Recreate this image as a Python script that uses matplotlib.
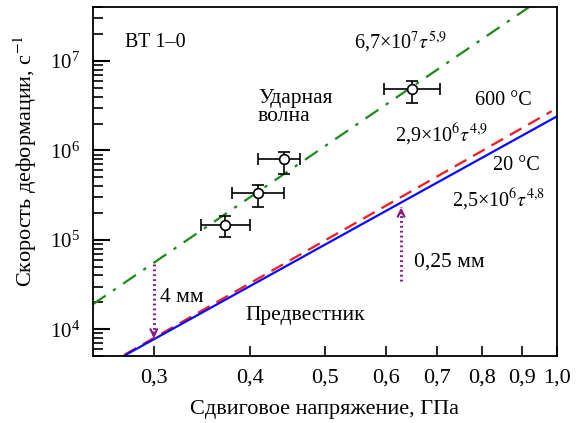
import numpy as np
import matplotlib
matplotlib.use("Agg")
import matplotlib.pyplot as plt
from matplotlib.ticker import FixedLocator, NullFormatter, LogLocator

plt.rcParams['font.family'] = ['Liberation Serif', 'DejaVu Serif']
plt.rcParams['mathtext.fontset'] = 'stix'

# =========================
# DATA
# =========================
# shock-wave points with error bars
tau_pts = [0.3715, 0.409, 0.443, 0.649]
rate_pts = [1.47e5, 3.35e5, 7.98e5, 4.89e6]
tau_lo = [0.345, 0.379, 0.409, 0.596]
tau_hi = [0.400, 0.442, 0.464, 0.706]
rate_lo = [1.08e5, 2.31e5, 5.47e5, 3.40e6]
rate_hi = [1.83e5, 4.12e5, 9.57e5, 5.96e6]

# fitted lines (end points)
shock_x = [0.25, 0.92]
shock_y = [1.9e4, 4.0e7]
hot_x = [0.275, 0.985]
hot_y = [5.2e3, 2.75e6]
cold_x = [0.275, 1.0]
cold_y = [5.1e3, 2.4e6]

# dotted arrows: (x, from, to)
arrow_4mm = (0.30, 5.4e4, 7.9e3)
arrow_025mm = (0.628, 3.5e4, 2.3e5)

xticks = [0.3, 0.4, 0.5, 0.6, 0.7, 0.8, 0.9, 1.0]
xticklabels = ["0,3", "0,4", "0,5", "0,6", "0,7", "0,8", "0,9", "1,0"]

# =========================
# PLOT
# =========================
fig = plt.figure(figsize=(5.8, 4.23), dpi=100)
ax = fig.add_axes([0.160, 0.158, 0.800, 0.825])
ax.set_xscale('log')
ax.set_yscale('log')

ax.plot(shock_x, shock_y, color='#1a8a1a', lw=1.6, dashes=(7, 4, 1.5, 4))
ax.plot(hot_x, hot_y, color='#ee1c1c', lw=1.6, dashes=(6, 3.5))
ax.plot(cold_x, cold_y, color='#0a0aff', lw=1.6)

xerr = [np.array(tau_pts) - np.array(tau_lo), np.array(tau_hi) - np.array(tau_pts)]
yerr = [np.array(rate_pts) - np.array(rate_lo), np.array(rate_hi) - np.array(rate_pts)]
ax.errorbar(tau_pts, rate_pts, xerr=xerr, yerr=yerr, fmt='o', color='black',
            mfc='white', mec='black', ms=7, mew=1.2, elinewidth=1.2,
            capsize=4, capthick=1.2, zorder=5)

purple = '#8b1a8b'
for x, y0, y1 in [arrow_4mm, arrow_025mm]:
    ax.plot([x, x], [y0, y1], color=purple, lw=2.2, linestyle=(0, (0.6, 1.0)))
    # open head at the end
    ax.annotate('', xy=(x, y1), xytext=(x, y1 * (y0 / y1) ** 0.08),
                arrowprops=dict(arrowstyle='->', color=purple, lw=1.6,
                                mutation_scale=12, shrinkA=0, shrinkB=0))

ax.set_xlim(0.25, 1.0)
ax.set_ylim(5e3, 4e7)

ax.xaxis.set_major_locator(FixedLocator(xticks))
ax.set_xticklabels(xticklabels)
ax.xaxis.set_minor_locator(FixedLocator([]))
ax.xaxis.set_minor_formatter(NullFormatter())
ax.yaxis.set_major_locator(LogLocator(base=10, numticks=10))
ax.yaxis.set_minor_locator(LogLocator(base=10, subs=np.arange(2, 10), numticks=10))
ax.yaxis.set_minor_formatter(NullFormatter())

ax.tick_params(which='both', direction='in', top=False, right=False)
ax.tick_params(axis='y', which='major', length=12, width=1.5, pad=9, labelsize=15)
ax.tick_params(axis='y', which='minor', length=7, width=1.2)
ax.tick_params(axis='x', which='major', length=7, width=1.2, pad=9, labelsize=16)
for s in ax.spines.values():
    s.set_linewidth(1.3)

ax.set_xlabel('Сдвиговое напряжение, ГПа', fontsize=16, labelpad=9)
ax.set_ylabel(r'Скорость деформации, с$^{-1}$', fontsize=16, labelpad=8, y=0.56)

fs = 15.5
fs2 = 14.5
tr = ax.transAxes
ax.text(0.069, 0.90, 'ВТ 1–0', fontsize=fs2, transform=tr, va='center')
ax.text(0.356, 0.713, 'Ударная\nволна', fontsize=fs, transform=tr, va='center',
        linespacing=0.95)
ax.text(0.5625, 0.90, r'6,7×10$^{7}$$\tau^{5{,}9}$', fontsize=fs2, transform=tr, va='center')
ax.text(0.823, 0.733, '600 °C', fontsize=fs2, transform=tr, va='center')
ax.text(0.651, 0.633, r'2,9×10$^{6}$$\tau^{4{,}9}$', fontsize=fs2, transform=tr, va='center')
ax.text(0.862, 0.547, '20 °C', fontsize=fs2, transform=tr, va='center')
ax.text(0.774, 0.447, r'2,5×10$^{6}$$\tau^{4{,}8}$', fontsize=fs2, transform=tr, va='center')
ax.text(0.144, 0.169, '4 мм', fontsize=fs, transform=tr, va='center')
ax.text(0.692, 0.269, '0,25 мм', fontsize=fs, transform=tr, va='center')
ax.text(0.33, 0.117, 'Предвестник', fontsize=fs, transform=tr, va='center')

fig.savefig('out.png', dpi=100)
